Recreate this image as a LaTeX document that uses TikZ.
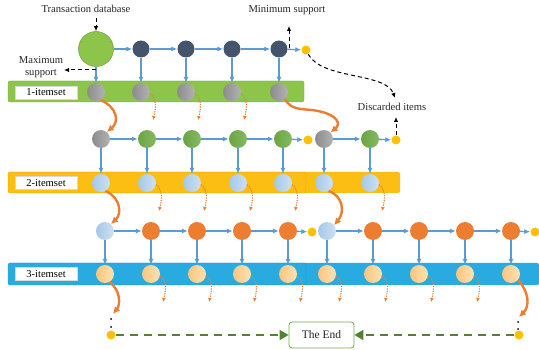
\documentclass[tikz,border=0pt]{standalone}
\usepackage{fontspec}
\setmainfont{Liberation Serif}
\usetikzlibrary{arrows.meta}
\definecolor{bl}{HTML}{5B9BD5}
\definecolor{og}{HTML}{ED7D31}
\definecolor{dk}{HTML}{44546A}
\definecolor{gn}{HTML}{70AD47}
\definecolor{yl}{HTML}{FFC000}
\definecolor{pchA}{HTML}{FAC57E}
\definecolor{pchB}{HTML}{FFE3B3}
\definecolor{bandA}{RGB}{141,196,74}
\definecolor{bandB}{RGB}{252,190,18}
\definecolor{bandC}{RGB}{41,171,226}
\definecolor{endg}{HTML}{548235}
\tikzset{
  circ/.style={circle,inner sep=0pt,minimum size=18pt,draw=none},
  dknode/.style={circ,minimum size=17pt,fill=dk},
  graynode/.style={circ,left color=black!45,right color=black!30},
  greennode/.style={circ,left color=gn!95!black,right color=gn!85!white},
  bluenode/.style={circ,left color=bl!55,right color=bl!30},
  orangenode/.style={circ,fill=og},
  peachnode/.style={circ,left color=pchA,right color=pchB},
  ydot/.style={circle,inner sep=0pt,minimum size=9pt,fill=yl},
  bdot/.style={circle,inner sep=0pt,minimum size=2pt,fill=black},
  ba/.style={draw=bl,line width=1.4pt,-{Latex[length=6pt,width=5pt]}},
  oa/.style={draw=og,line width=2.4pt,-{Latex[length=7pt,width=7pt]}},
  da/.style={draw=og,line width=1.1pt,dash pattern=on 1.2pt off 1.2pt,-{Latex[length=4pt,width=4pt]}},
  ka/.style={draw=black,line width=1pt,dash pattern=on 4pt off 3pt,-{Latex[length=5pt,width=4.5pt]}},
  ga/.style={draw=endg,line width=1.8pt,dash pattern=on 8pt off 6pt,-{Triangle[length=9pt,width=10pt]}},
  lab/.style={draw=black!15,fill=white,minimum width=62pt,minimum height=13pt,inner sep=0pt},
  txt/.style={text=black!85,inner sep=0pt}
}
\begin{document}
\begin{tikzpicture}[x=1pt,y=-1pt,font=\fontsize{10.6}{12.5}\selectfont]
\useasboundingbox (0,0) rectangle (539,350);
% bands
\fill[bandA,rounded corners=2pt] (8,81) rectangle (304,102);
\draw[bandA!85!black,line width=0.3pt,rounded corners=2pt] (8,81) rectangle (304,102);
\fill[bandB,rounded corners=2pt] (8,172) rectangle (400,193);
\draw[bandB!85!black,line width=0.3pt,rounded corners=2pt] (8,172) rectangle (306,193);
\fill[bandC,rounded corners=2pt] (8,263) rectangle (539,285);
\draw[bandC!85!black,line width=0.3pt,rounded corners=2pt] (8,263) rectangle (306,285);
\node[lab] (l1) at (46,92.5) {1-itemset};
\node[lab] (l2) at (46,183) {2-itemset};
\node[lab] (l3) at (46,274) {3-itemset};

% row 1
\node[circ,minimum size=35pt,fill=bandA,draw=bandA!80!black,line width=0.5pt] (r1-0) at (96,49) {};
\foreach \x [count=\i] in {141,186,232,279} \node[dknode] (r1-\i) at (\x,49) {};
\node[ydot] (y1) at (306,50) {};
\foreach \x [count=\i from 0] in {96,141,186,232,279} \node[graynode] (b1-\i) at (\x,92) {};
\foreach \i in {0,...,4} \draw[ba] (r1-\i) -- (b1-\i);
\foreach \i/\j in {0/1,1/2,2/3,3/4} \draw[ba] (r1-\i) -- (r1-\j);
\draw[ba] (r1-4) -- (y1);

% row 2
\node[graynode] (r2-0) at (101,139) {};
\foreach \x [count=\i] in {147,192,238,283} \node[greennode] (r2-\i) at (\x,139) {};
\node[ydot] (y2a) at (308,140) {};
\node[graynode] (r2-5) at (324,139) {};
\node[greennode] (r2-6) at (370,139) {};
\node[ydot] (y2b) at (396,140) {};
\foreach \x [count=\i from 0] in {101,147,192,238,283,324,370} \node[bluenode] (b2-\i) at (\x,183) {};
\foreach \i in {0,...,6} \draw[ba] (r2-\i) -- (b2-\i);
\foreach \i/\j in {0/1,1/2,2/3,3/4,5/6} \draw[ba] (r2-\i) -- (r2-\j);
\draw[ba] (r2-4) -- (y2a);
\draw[ba] (r2-6) -- (y2b);

% row 3
\node[bluenode] (r3-0) at (105,231) {};
\foreach \x [count=\i] in {151,197,242,288} \node[orangenode] (r3-\i) at (\x,231) {};
\node[ydot] (y3a) at (312,232) {};
\node[bluenode] (r3-5) at (327,231) {};
\foreach \x [count=\i from 6] in {373,419,465,511} \node[orangenode] (r3-\i) at (\x,231) {};
\node[ydot] (y3b) at (535,232) {};
\foreach \x [count=\i from 0] in {105,151,197,242,288,327,373,419,465,511} \node[peachnode] (b3-\i) at (\x,274) {};
\foreach \i in {0,...,9} \draw[ba] (r3-\i) -- (b3-\i);
\foreach \i/\j in {0/1,1/2,2/3,3/4,5/6,6/7,7/8,8/9} \draw[ba] (r3-\i) -- (r3-\j);
\draw[ba] (r3-4) -- (y3a);
\draw[ba] (r3-9) -- (y3b);

% dotted discard arrows
\foreach \n in {b1-1,b1-2,b1-3,b2-1,b2-2,b2-3,b2-4,b2-6,b3-1,b3-2,b3-3,b3-4,b3-5,b3-6,b3-7,b3-8}
  \draw[da] (\n.-10) .. controls +(7,6) and +(3,-12) .. ([shift={(12,28)}]\n.center);

% ends
\node[bdot] (d1) at (111,319) {};
\node[bdot] (d2) at (111,327) {};
\node[bdot] (d3) at (518,322) {};
\node[bdot] (d4) at (518,329) {};
\node[ydot] (ye1) at (111,335) {};
\node[ydot] (ye2) at (519,335) {};
\node[draw=gn,line width=0.8pt,rounded corners=3pt,fill=white,minimum width=65pt,minimum height=26pt,inner sep=0pt,text=black!85,font=\fontsize{11.5}{13}\selectfont] (end) at (321.5,335) {The End};
\draw[ga] (ye1) -- (end);
\draw[ga] (ye2) -- (end);

% thick orange arrows
\coordinate (e1) at (113,314);
\coordinate (e2) at (519,317);
\draw[oa] (b1-0.-60) .. controls (118,108) and (119,122) .. (r2-0.50);
\draw[oa] (b1-4.-50) .. controls (292,112) and (305,108) .. (318,111) .. controls (338,115) and (341,124) .. (r2-5.45);
\draw[oa] (b2-0.-60) .. controls (121,198) and (122,214) .. (r3-0.50);
\draw[oa] (b2-5.-60) .. controls (343,196) and (345,212) .. (r3-5.40);
\draw[oa] (b3-0.-60) .. controls (120,290) and (121,304) .. (e1);
\draw[oa] (b3-9.-40) .. controls (529,292) and (530,306) .. (e2);

% texts and black dashed arrows
\node[txt] (td) at (86,9) {Transaction database};
\node[txt] (ms) at (287,10) {Minimum support};
\node[txt,align=center] (mx) at (41,67) {Maximum\\support};
\node[txt] (di) at (392,107) {Discarded items};
\coordinate (tdA) at (96,18);
\draw[ka] (tdA) -- (r1-0);
\coordinate (mxA) at (96,70);
\coordinate (mxB) at (64,70);
\draw[ka] (mxA) -- (mxB);
\coordinate (msA) at (289,48);
\coordinate (msB) at (289,26);
\draw[ka] (msA) -- (msB);
\coordinate (diA) at (395,98);
\draw[ka] (y1) .. controls (322,80) and (386,72) .. (diA);
\coordinate (diB) at (396,117);
\draw[ka] (y2b) -- (diB);
\end{tikzpicture}
\end{document}
